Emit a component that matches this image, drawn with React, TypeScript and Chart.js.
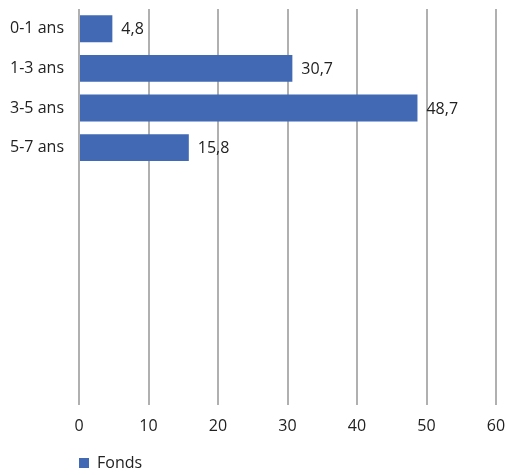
import React, { useEffect, useRef } from "react";
import { Chart, registerables } from "chart.js";

Chart.register(...registerables);

const categories = ["0-1 ans", "1-3 ans", "3-5 ans", "5-7 ans", "", "", "", "", "", ""];
const fondsValues: (number | null)[] = [4.8, 30.7, 48.7, 15.8, null, null, null, null, null, null];
const seriesName = "Fonds";
const xMin = 0;
const xMax = 60;
const xStep = 10;

const FONT = "'Open Sans', 'Noto Sans', sans-serif";
const TEXT = "#222222";
const BAR = "#4169b4";

const valueLabels = {
  id: "valueLabels",
  afterDatasetsDraw(chart: any) {
    const ctx = chart.ctx;
    ctx.save();
    ctx.font = `16px ${FONT}`;
    ctx.fillStyle = TEXT;
    ctx.textAlign = "left";
    ctx.textBaseline = "middle";
    chart.data.datasets.forEach((ds: any, di: number) => {
      const meta = chart.getDatasetMeta(di);
      meta.data.forEach((el: any, i: number) => {
        const v = ds.data[i];
        if (v === null || v === undefined) return;
        ctx.fillText(v.toFixed(1).replace(".", ","), el.x + 9, el.y + 1);
      });
    });
    ctx.restore();
  },
};

function zeroPadding(scale: any) {
  scale.paddingTop = 0;
  scale.paddingBottom = 0;
  scale.paddingLeft = 0;
  scale.paddingRight = 0;
}

export default function App() {
  const ref = useRef<HTMLCanvasElement>(null);
  useEffect(() => {
    document.body.style.margin = "0";
    const chart = new Chart(ref.current!, {
      type: "bar",
      data: {
        labels: categories,
        datasets: [
          {
            label: seriesName,
            data: fondsValues,
            backgroundColor: BAR,
            borderWidth: 0,
            categoryPercentage: 1,
            barPercentage: 0.68,
          },
        ],
      },
      options: {
        indexAxis: "y",
        animation: false,
        responsive: false,
        layout: { padding: { top: 9, right: 11, bottom: -6, left: 0 } },
        plugins: {
          legend: {
            position: "bottom",
            align: "start",
            fullSize: false,
            labels: {
              boxWidth: 10,
              boxHeight: 10,
              padding: 0,
              color: TEXT,
              font: { family: FONT, size: 16 },
            },
          },
          tooltip: { enabled: false },
        },
        scales: {
          x: {
            min: xMin,
            max: xMax,
            border: { display: false },
            grid: { color: "#b0b0b0", lineWidth: 2, drawTicks: false },
            ticks: {
              stepSize: xStep,
              padding: 12,
              color: TEXT,
              font: { family: FONT, size: 16 },
            },
            afterFit(scale: any) {
              scale.height = 50;
              zeroPadding(scale);
            },
          },
          y: {
            border: { display: false },
            grid: { display: false, drawTicks: false },
            ticks: {
              autoSkip: false,
              padding: 15,
              color: TEXT,
              font: { family: FONT, size: 16 },
            },
            afterFit(scale: any) {
              scale.width = 79;
              zeroPadding(scale);
            },
          },
        },
      },
      plugins: [valueLabels],
    } as any);
    return () => chart.destroy();
  }, []);
  return (
    <div style={{ position: "absolute", left: 0, top: 0, width: 507, height: 475 }}>
      <canvas ref={ref} width={507} height={475} />
    </div>
  );
}
